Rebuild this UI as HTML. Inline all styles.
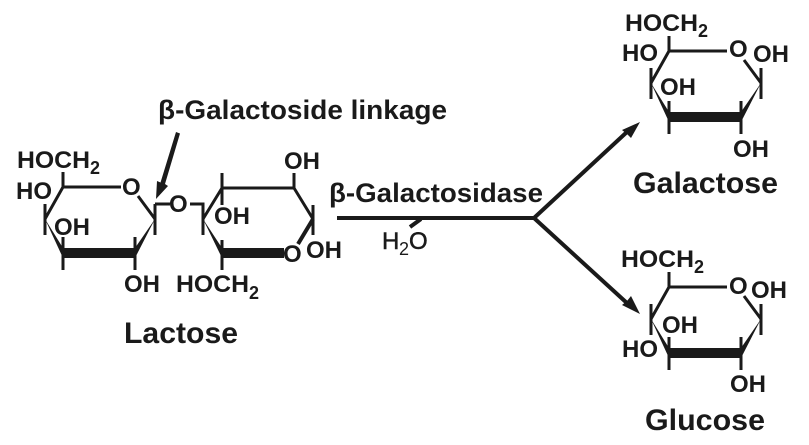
<!DOCTYPE html>
<html>
<head>
<meta charset="utf-8">
<style>
html,body{margin:0;padding:0;background:#fff;width:809px;height:445px;overflow:hidden}
svg{display:block}
text{font-family:"Liberation Sans",sans-serif;font-weight:bold;fill:#1a1a1a;font-size:24px}
.big{font-size:30px}
.mid{font-size:27px}
.sub{font-size:18px}
.l{stroke:#1a1a1a;stroke-width:3;fill:none}
.f{fill:#1a1a1a;stroke:none}
</style>
</head>
<body>
<svg width="809" height="445" viewBox="0 0 809 445" xmlns="http://www.w3.org/2000/svg">
<defs>
<g id="ring">
<path class="l" d="M0 -15V0H58M75 9L92 32M-18 17V48M92 17V48M0 50V83M72 50V83M-18 32L0 0"/>
<path class="f" d="M-18 32L0 61V71Z"/>
<path class="f" d="M92 32L72 61V71Z"/>
<rect class="f" x="0" y="61" width="72" height="10"/>
</g>
</defs>

<!-- Lactose left ring -->
<use href="#ring" x="63" y="187"/>
<!-- linkage -->
<path class="l" d="M155 204H170M190 204H203V235"/>
<!-- Lactose right ring -->
<path class="l" d="M222 173V205M222 188H294M294 173V188L313 219M313 205V235M222 188L203 219M222 240V270"/>
<path class="l" style="stroke-width:4" d="M313 219L298 244"/>
<path class="f" d="M203 219L222 248V258Z"/>
<rect class="f" x="222" y="248" width="62" height="10"/>

<!-- linkage arrow -->
<path class="f" d="M176 132L180 133.500L165 184L168 186L156 199L157 181L160.500 182.500Z"/>

<!-- Main arrows -->
<path class="l" style="stroke-width:4" d="M337 218H534M534 218L628 131M534 218L628 304M410 227L421 219"/>
<path class="f" d="M640 122L622 130L627 134L631 138Z"/>
<path class="f" d="M640 314L631 296L627 301L622 305Z"/>

<!-- Galactose ring -->
<use href="#ring" x="669" y="51"/>
<!-- Glucose ring -->
<use href="#ring" x="669" y="287"/>

<!-- Lactose labels -->
<text x="158" y="119" class="mid" textLength="289" lengthAdjust="spacingAndGlyphs">β-Galactoside linkage</text>
<text x="17" y="168" textLength="73" lengthAdjust="spacingAndGlyphs">HOCH</text><text x="90" y="174" class="sub">2</text>
<text x="16" y="199">HO</text>
<text x="54" y="235">OH</text>
<text x="122" y="195">O</text>
<text x="169" y="212">O</text>
<text x="124" y="292">OH</text>
<text x="176" y="292" textLength="73" lengthAdjust="spacingAndGlyphs">HOCH</text><text x="249" y="299" class="sub">2</text>
<text x="284" y="169">OH</text>
<text x="214" y="224">OH</text>
<text x="283" y="262">O</text>
<text x="306" y="258">OH</text>
<text x="124" y="343" class="big" textLength="114" lengthAdjust="spacingAndGlyphs">Lactose</text>

<!-- enzyme labels -->
<text x="329" y="202" class="mid" textLength="214" lengthAdjust="spacingAndGlyphs">β-Galactosidase</text>
<text x="382" y="249" style="font-size:24px;font-weight:normal;stroke:#1a1a1a;stroke-width:.5">H</text>
<text x="399" y="255" class="sub" style="font-weight:normal">2</text>
<text x="409" y="249" style="font-size:24px;font-weight:normal;stroke:#1a1a1a;stroke-width:.5">O</text>

<!-- Galactose labels -->
<text x="625" y="31" textLength="73" lengthAdjust="spacingAndGlyphs">HOCH</text><text x="698" y="37" class="sub">2</text>
<text x="622" y="61">HO</text>
<text x="729" y="57">O</text>
<text x="753" y="62">OH</text>
<text x="660" y="95">OH</text>
<text x="733" y="157">OH</text>
<text x="633" y="193" class="big" textLength="145" lengthAdjust="spacingAndGlyphs">Galactose</text>

<!-- Glucose labels -->
<text x="621" y="267" textLength="73" lengthAdjust="spacingAndGlyphs">HOCH</text><text x="694" y="273" class="sub">2</text>
<text x="622" y="357">HO</text>
<text x="729" y="294">O</text>
<text x="751" y="298">OH</text>
<text x="662" y="333">OH</text>
<text x="730" y="392">OH</text>
<text x="645" y="430" class="big" textLength="120" lengthAdjust="spacingAndGlyphs">Glucose</text>
</svg>
</body>
</html>
